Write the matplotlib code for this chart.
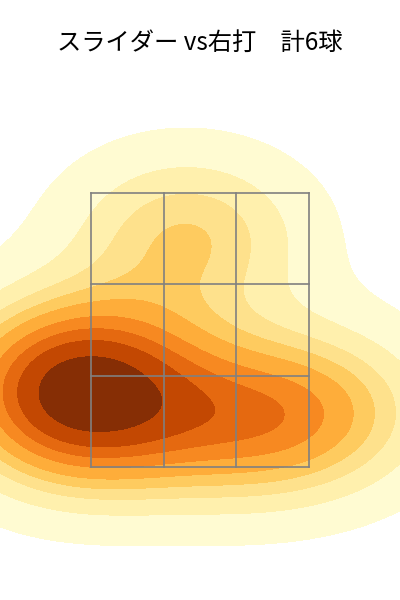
import matplotlib
matplotlib.use("Agg")
import matplotlib.pyplot as plt
import seaborn as sns
import numpy as np

# pitch locations (feet, catcher's view)
plate_x = [-1.07, -0.78, -0.90, 0.23, 0.91, -0.09]
plate_z = [2.10, 2.21, 1.81, 1.81, 1.92, 3.19]

# strike zone
zone_x = [-0.83, -0.277, 0.277, 0.83]
zone_z = [1.5, 2.167, 2.833, 3.5]

title = "スライダー vs右打　計6球"

plt.rcParams['font.family'] = ['Noto Sans CJK JP', 'DejaVu Sans']

fig = plt.figure(figsize=(4, 6), dpi=100)
ax = fig.add_axes([0, 0, 1, 530 / 600])

sns.kdeplot(x=plate_x, y=plate_z, fill=True, cmap="YlOrBr", levels=10,
            thresh=0.05, bw_adjust=1.1, ax=ax)

for xv in zone_x:
    ax.plot([xv, xv], [zone_z[0], zone_z[-1]], color="gray", lw=1.2)
for zv in zone_z:
    ax.plot([zone_x[0], zone_x[-1]], [zv, zv], color="gray", lw=1.2)

ax.set_xlim(-1.523, 1.523)
ax.set_ylim(0.529, 4.398)
ax.axis("off")

fig.text(0.5, 1 - 43 / 600, title, ha="center", va="center", fontsize=17.5)

fig.savefig("out.png", dpi=100)
